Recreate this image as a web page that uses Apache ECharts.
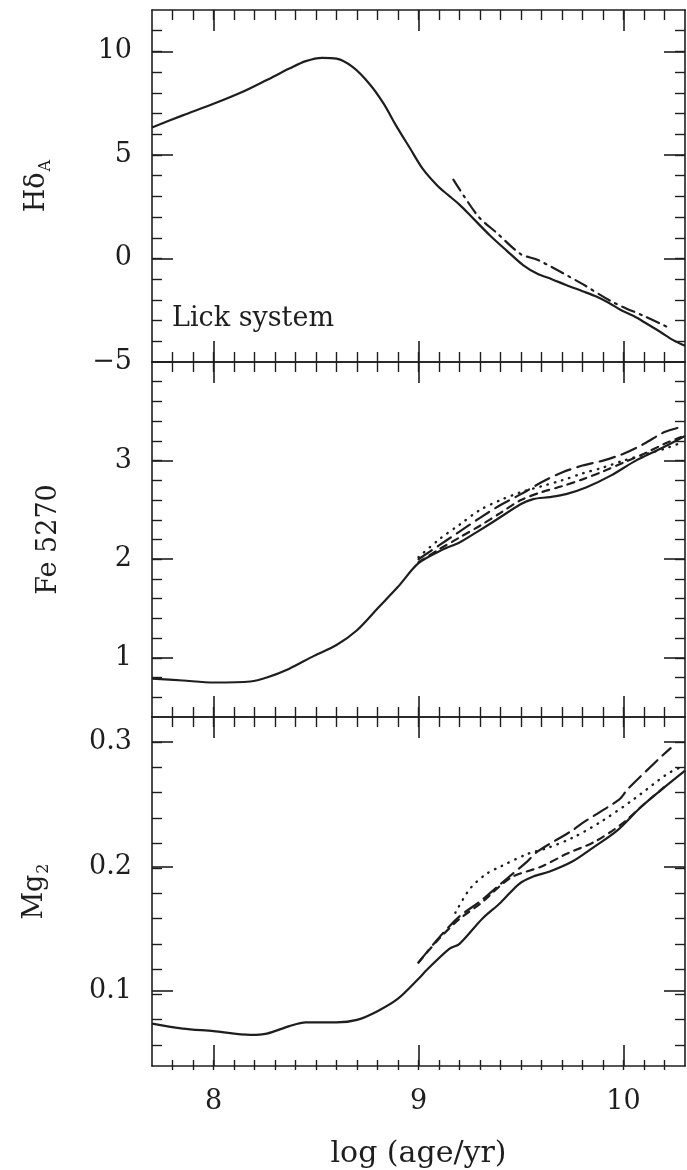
<!DOCTYPE html>
<html>
<head>
<meta charset="utf-8">
<script src="https://cdn.jsdelivr.net/npm/echarts@6/dist/echarts.min.js"></script>
<style>
  html, body { margin: 0; padding: 0; background: #fff; }
  #chart { width: 687px; height: 1170px; }
</style>
</head>
<body>
<div id="chart"></div>
<script>
// log(age/yr) grid shared by all three index panels
const xMajorTicks = [8, 9, 10];

// --- H delta A (Lick system) ---
const hdMajorTicks = [-5, 0, 5, 10];
const hdAge = [7.7, 7.85, 8.0, 8.14, 8.26, 8.37, 8.45, 8.53, 8.6, 8.68, 8.76, 8.83, 8.89, 8.96, 9.02, 9.09, 9.14, 9.2, 9.27, 9.35, 9.43, 9.51, 9.58, 9.65, 9.72, 9.8, 9.87, 9.93, 9.98, 10.05, 10.11, 10.18, 10.24, 10.3];
const hdSolid = [6.33, 6.91, 7.47, 8.04, 8.62, 9.17, 9.53, 9.69, 9.65, 9.24, 8.44, 7.48, 6.43, 5.3, 4.34, 3.54, 3.1, 2.6, 1.9, 1.1, 0.38, -0.32, -0.74, -1.0, -1.28, -1.58, -1.85, -2.15, -2.45, -2.78, -3.13, -3.55, -3.93, -4.22];
const hdAltAge = [9.17, 9.29, 9.38, 9.5, 9.58, 9.79, 9.95, 10.1, 10.21];
const hdDashDot = [3.81, 2.05, 1.25, 0.2, -0.06, -1.18, -2.12, -2.78, -3.29];

// --- Fe 5270 ---
const feMajorTicks = [1, 2, 3];
const feAge = [7.7, 7.85, 8.0, 8.18, 8.26, 8.37, 8.49, 8.6, 8.7, 8.8, 8.9, 9.0, 9.12, 9.2, 9.28, 9.38, 9.5, 9.56, 9.64, 9.72, 9.82, 9.94, 10.06, 10.18, 10.3];
const feSolid = [0.79, 0.77, 0.75, 0.76, 0.80, 0.89, 1.02, 1.13, 1.28, 1.5, 1.72, 1.96, 2.1, 2.17, 2.27, 2.40, 2.56, 2.61, 2.63, 2.66, 2.73, 2.85, 3.0, 3.12, 3.25];
const feAltAge = [9.0, 9.1, 9.2, 9.3, 9.4, 9.5, 9.6, 9.7, 9.8, 9.9, 10.0, 10.1, 10.2, 10.28];
const feLongDash = [2.0, 2.14, 2.28, 2.42, 2.55, 2.66, 2.78, 2.88, 2.95, 3.0, 3.07, 3.17, 3.29, 3.34];
const feDotted = [2.02, 2.2, 2.35, 2.5, 2.6, 2.68, 2.74, 2.8, 2.87, 2.93, 3.0, 3.06, 3.12, 3.18];
const feShortDash = [1.97, 2.1, 2.22, 2.34, 2.47, 2.6, 2.68, 2.74, 2.81, 2.89, 2.98, 3.07, 3.17, 3.24];

// --- Mg2 ---
const mgMajorTicks = [0.1, 0.2, 0.3];
const mgAge = [7.7, 7.85, 8.0, 8.18, 8.26, 8.37, 8.45, 8.6, 8.7, 8.8, 8.9, 9.0, 9.04, 9.15, 9.2, 9.31, 9.4, 9.49, 9.56, 9.64, 9.75, 9.85, 9.97, 10.08, 10.18, 10.3];
const mgSolid = [0.074, 0.070, 0.068, 0.065, 0.066, 0.072, 0.075, 0.075, 0.077, 0.084, 0.094, 0.11, 0.117, 0.134, 0.138, 0.158, 0.171, 0.186, 0.192, 0.196, 0.204, 0.215, 0.229, 0.247, 0.261, 0.277];
const mgLongAge = [9.0, 9.1, 9.2, 9.3, 9.4, 9.53, 9.58, 9.75, 9.81, 9.98, 10.02, 10.17, 10.23];
const mgLongDash = [0.123, 0.143, 0.16, 0.172, 0.186, 0.204, 0.212, 0.229, 0.236, 0.254, 0.262, 0.286, 0.295];
const mgShortAge = [9.0, 9.1, 9.2, 9.3, 9.45, 9.6, 9.72, 9.86, 9.99, 10.1, 10.2];
const mgShortDash = [0.123, 0.142, 0.158, 0.17, 0.191, 0.2, 0.21, 0.22, 0.234, 0.25, 0.264];
const mgDotAge = [9.18, 9.25, 9.33, 9.4, 9.53, 9.63, 9.75, 9.89, 10.05, 10.21, 10.27];
const mgDotted = [0.163, 0.182, 0.194, 0.2, 0.21, 0.215, 0.223, 0.236, 0.254, 0.274, 0.279];

const INK = '#1e1e1e';
const FONT = 'DejaVu Serif';
const X_MIN = 7.7, X_MAX = 10.3;

function zip(xs, ys) { return xs.map((x, i) => [x, ys[i]]); }

// tick positions strictly inside (min, max) every `step`
function steps(min, max, step) {
  const out = [];
  const n0 = Math.ceil(min / step - 1e-9), n1 = Math.floor(max / step + 1e-9);
  for (let n = n0; n <= n1; n++) {
    const v = +(n * step).toFixed(6);
    if (v > min + 1e-9 && v < max - 1e-9) out.push(v);
  }
  return out;
}

function fmt(v) {
  return v < 0 ? '\u2212' + Math.abs(v) : String(v);
}

const panels = [
  { top: 10, height: 352, min: -5, max: 12, major: hdMajorTicks, minorStep: 1,
    name: '{m|H\u03b4}{s|A}', gap: 98 },
  { top: 362, height: 355, min: 0.4, max: 4.0, major: feMajorTicks, minorStep: 0.2,
    name: '{m|Fe 5270}', gap: 86 },
  { top: 717, height: 353, min: 0.04, max: 0.32, major: mgMajorTicks, minorStep: 0.02,
    name: '{m|Mg}{s|2}', gap: 100 }
];

const grids = [], xAxes = [], yAxes = [];
const frame = { color: INK, width: 1.6 };
const tickMajor = { color: INK, width: 1.6 };
const tickMinor = { color: INK, width: 1.4 };
const xMinorTicks = steps(X_MIN, X_MAX, 0.1);

panels.forEach((p, i) => {
  const isLast = i === panels.length - 1;
  const yMinor = steps(p.min, p.max, p.minorStep);
  // two stacked grids per panel: one carries major ticks + frame, the other the minor ticks
  [0, 1].forEach(layer => {
    const g = grids.length;
    grids.push({ left: 152, right: 2, top: p.top, height: p.height, containLabel: false });
    const major = layer === 0;
    ['bottom', 'top'].forEach(pos => {
      const showLab = major && pos === 'bottom' && isLast;
      xAxes.push({
        gridIndex: g, type: 'value', position: pos, min: X_MIN, max: X_MAX,
        axisLine: { show: major, onZero: false, lineStyle: frame },
        axisTick: { show: true, inside: true, length: major ? 21 : 10,
          customValues: major ? xMajorTicks : xMinorTicks,
          lineStyle: major ? tickMajor : tickMinor },
        axisLabel: { show: showLab, customValues: xMajorTicks, margin: 22,
          color: INK, fontFamily: FONT, fontSize: 27, formatter: fmt },
        splitLine: { show: false },
        name: showLab ? 'log (age/yr)' : '',
        nameLocation: 'middle', nameGap: 73,
        nameTextStyle: { color: INK, fontFamily: FONT, fontSize: 30 }
      });
    });
    ['left', 'right'].forEach(pos => {
      const showLab = major && pos === 'left';
      yAxes.push({
        gridIndex: g, type: 'value', position: pos, min: p.min, max: p.max,
        axisLine: { show: major, onZero: false, lineStyle: frame },
        axisTick: { show: true, inside: true, length: major ? 21 : 10,
          customValues: major ? p.major : yMinor,
          lineStyle: major ? tickMajor : tickMinor },
        axisLabel: { show: showLab, customValues: p.major, margin: 20,
          color: INK, fontFamily: FONT, fontSize: 27, formatter: fmt },
        splitLine: { show: false },
        name: showLab ? p.name : '',
        nameLocation: 'middle', nameGap: p.gap, nameRotate: 90,
        nameTextStyle: {
          color: INK, fontFamily: FONT,
          rich: {
            m: { fontFamily: FONT, fontSize: 27, color: INK, lineHeight: 34 },
            s: { fontFamily: FONT, fontSize: 16, color: INK, lineHeight: 34,
                 verticalAlign: 'bottom', padding: [10, 0, 0, 1] }
          }
        }
      });
    });
  });
});

function line(panel, data, dash, width) {
  const g = panel * 2;
  return {
    type: 'line', xAxisIndex: g * 2, yAxisIndex: g * 2, data: data,
    showSymbol: false, symbol: 'none', smooth: 0.3,
    silent: true, z: 3,
    lineStyle: { color: INK, width: width || 2.2, type: dash || 'solid', cap: dash ? 'round' : 'butt' }
  };
}

const DASH_DOT = [13, 6, 2, 6];
const LONG_DASH = [16, 7];
const SHORT_DASH = [7, 6];
const DOTS = [0.5, 7];

const series = [
  line(0, zip(hdAge, hdSolid)),
  line(0, zip(hdAltAge, hdDashDot), DASH_DOT),

  line(1, zip(feAge, feSolid)),
  line(1, zip(feAltAge, feLongDash), LONG_DASH),
  line(1, zip(feAltAge, feDotted), DOTS, 2.4),
  line(1, zip(feAltAge, feShortDash), SHORT_DASH),

  line(2, zip(mgAge, mgSolid)),
  line(2, zip(mgLongAge, mgLongDash), LONG_DASH),
  line(2, zip(mgShortAge, mgShortDash), SHORT_DASH),
  line(2, zip(mgDotAge, mgDotted), DOTS, 2.4)
];

const chart = echarts.init(document.getElementById('chart'), null, { renderer: 'canvas' });
chart.setOption({
  animation: false,
  backgroundColor: '#fff',
  grid: grids,
  xAxis: xAxes,
  yAxis: yAxes,
  series: series,
  graphic: [{
    type: 'text', left: 172, top: 305, silent: true,
    style: { text: 'Lick system', fill: INK, font: '27px "DejaVu Serif"' }
  }]
});
</script>
</body>
</html>
